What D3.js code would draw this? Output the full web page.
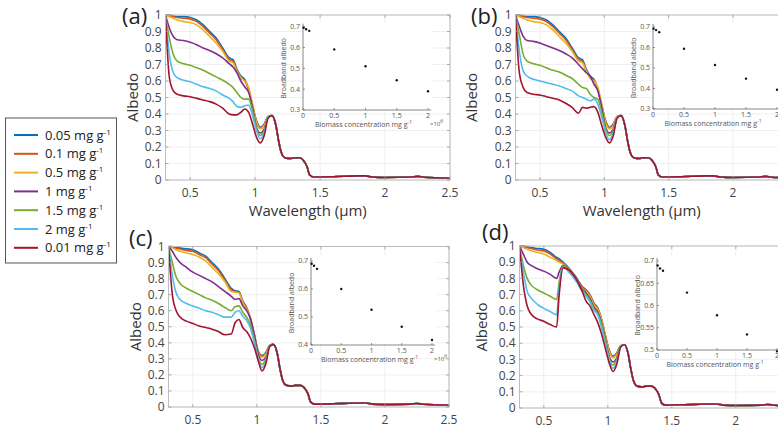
<!DOCTYPE html>
<html><head><meta charset="utf-8">
<script src="https://cdn.jsdelivr.net/npm/d3@7"></script>
<style>body{margin:0;background:#fff} svg{display:block} text{font-family:"Open Sans",sans-serif}</style>
</head><body><svg id="c" width="778" height="426"></svg>
<script>
// ---------- data ----------
const concLabels = ["0.05","0.1","0.5","1","1.5","2","0.01"];
const colors = ["#0072BD","#D95319","#EDB120","#7E2F8E","#77AC30","#4DBEEE","#A2142F"];
const xTicks = [0.5,1,1.5,2,2.5];
const yTicks = [0,0.1,0.2,0.3,0.4,0.5,0.6,0.7,0.8,0.9,1];

const wlABC = [0.31,0.34,0.37,0.4,0.45,0.5,0.55,0.6,0.65,0.7,0.75,0.8,0.83,0.86,0.89,0.92,0.95,0.98,1.01,1.04,1.07,1.1];
const wlD   = [0.31,0.34,0.37,0.4,0.45,0.5,0.55,0.6,0.62,0.65,0.7,0.75,0.8,0.83,0.86,0.89,0.92,0.95,0.98,1.01,1.04,1.07,1.1];
const tailWl  = [1.13,1.16,1.18,1.2,1.23,1.27,1.3,1.34,1.37,1.4,1.42,1.45,1.6,1.8,1.85,1.9,2.0,2.2,2.25,2.3,2.5];
const tailAlb = [0.39,0.33,0.24,0.17,0.135,0.13,0.135,0.135,0.12,0.08,0.03,0.018,0.02,0.025,0.025,0.018,0.015,0.018,0.022,0.017,0.012];

// panel (a)
const a005 = [1.0,1.0,0.995,0.99,0.99,0.985,0.97,0.94,0.9,0.86,0.8,0.74,0.73,0.67,0.63,0.61,0.55,0.45,0.36,0.32,0.34,0.385];
const a01  = [1.0,0.995,0.99,0.985,0.98,0.975,0.96,0.93,0.89,0.85,0.79,0.73,0.72,0.66,0.62,0.6,0.55,0.45,0.355,0.315,0.335,0.385];
const a05  = [1.0,0.99,0.98,0.97,0.96,0.955,0.94,0.91,0.87,0.83,0.78,0.72,0.71,0.66,0.62,0.6,0.56,0.46,0.35,0.31,0.33,0.385];
const a1   = [1.0,0.92,0.87,0.85,0.845,0.835,0.82,0.8,0.785,0.765,0.74,0.705,0.685,0.65,0.6,0.565,0.53,0.44,0.32,0.285,0.31,0.38];
const a15  = [1.0,0.86,0.76,0.72,0.705,0.695,0.68,0.665,0.645,0.625,0.605,0.58,0.56,0.53,0.5,0.49,0.49,0.42,0.31,0.27,0.3,0.38];
const a2   = [1.0,0.76,0.65,0.62,0.605,0.595,0.58,0.565,0.555,0.54,0.515,0.495,0.475,0.445,0.44,0.45,0.455,0.39,0.3,0.25,0.29,0.38];
const a001 = [1.0,0.62,0.54,0.52,0.51,0.505,0.495,0.485,0.475,0.46,0.435,0.4,0.395,0.395,0.41,0.43,0.41,0.34,0.26,0.225,0.27,0.375];
// panel (b)
const b005 = a005.slice();
const b01  = a01.slice();
const b05  = a05.slice();
const b1   = [1.0,0.93,0.87,0.845,0.84,0.83,0.815,0.8,0.785,0.765,0.74,0.7,0.675,0.65,0.63,0.58,0.54,0.44,0.32,0.285,0.31,0.38];
const b15  = [1.0,0.88,0.76,0.72,0.705,0.695,0.68,0.665,0.655,0.635,0.615,0.58,0.56,0.555,0.52,0.5,0.49,0.41,0.31,0.27,0.3,0.38];
const b2   = [1.0,0.78,0.66,0.63,0.61,0.6,0.59,0.58,0.57,0.555,0.54,0.51,0.5,0.49,0.48,0.49,0.46,0.38,0.29,0.245,0.285,0.38];
const b001 = [1.0,0.65,0.56,0.53,0.52,0.515,0.505,0.495,0.485,0.465,0.44,0.405,0.44,0.435,0.44,0.445,0.41,0.33,0.26,0.225,0.27,0.375];
// panel (c)
const c005 = [1.0,1.0,0.995,0.99,0.985,0.98,0.96,0.94,0.9,0.86,0.8,0.74,0.725,0.72,0.66,0.62,0.55,0.45,0.35,0.32,0.34,0.385];
const c01  = [1.0,0.995,0.99,0.985,0.975,0.97,0.95,0.93,0.89,0.85,0.79,0.73,0.72,0.715,0.655,0.615,0.55,0.45,0.345,0.315,0.335,0.385];
const c05  = [1.0,0.99,0.98,0.97,0.96,0.95,0.935,0.91,0.87,0.83,0.78,0.72,0.715,0.71,0.65,0.61,0.555,0.455,0.34,0.31,0.33,0.385];
const c1   = [1.0,0.97,0.93,0.9,0.87,0.84,0.82,0.8,0.78,0.75,0.72,0.69,0.67,0.675,0.63,0.6,0.55,0.45,0.33,0.29,0.31,0.38];
const c15  = [1.0,0.9,0.81,0.77,0.74,0.72,0.7,0.68,0.665,0.645,0.62,0.6,0.625,0.63,0.59,0.56,0.51,0.42,0.31,0.265,0.3,0.38];
const c2   = [1.0,0.82,0.71,0.67,0.645,0.63,0.615,0.6,0.59,0.575,0.56,0.56,0.59,0.6,0.565,0.54,0.49,0.4,0.3,0.245,0.285,0.38];
const c001 = [1.0,0.7,0.6,0.56,0.535,0.52,0.505,0.495,0.485,0.47,0.45,0.455,0.525,0.545,0.495,0.47,0.43,0.37,0.29,0.225,0.27,0.375];
// panel (d)
const d005 = [1.0,1.0,0.995,0.99,0.985,0.98,0.96,0.93,0.92,0.9,0.86,0.81,0.75,0.73,0.7,0.65,0.62,0.55,0.45,0.36,0.32,0.34,0.385];
const d01  = [1.0,0.995,0.99,0.985,0.975,0.97,0.95,0.92,0.91,0.895,0.855,0.805,0.745,0.725,0.695,0.645,0.615,0.55,0.45,0.355,0.315,0.335,0.385];
const d05  = [1.0,0.99,0.98,0.97,0.96,0.95,0.93,0.91,0.9,0.89,0.85,0.8,0.74,0.72,0.69,0.64,0.61,0.55,0.45,0.35,0.31,0.33,0.385];
const d1   = [1.0,0.95,0.9,0.88,0.86,0.845,0.825,0.8,0.84,0.88,0.845,0.795,0.735,0.71,0.675,0.625,0.595,0.53,0.43,0.32,0.285,0.31,0.38];
const d15  = [1.0,0.88,0.8,0.76,0.73,0.71,0.69,0.67,0.78,0.875,0.84,0.79,0.73,0.7,0.665,0.615,0.585,0.52,0.42,0.31,0.265,0.3,0.38];
const d2   = [1.0,0.84,0.72,0.68,0.64,0.615,0.595,0.575,0.74,0.87,0.835,0.785,0.72,0.69,0.655,0.605,0.575,0.5,0.4,0.3,0.245,0.285,0.38];
const d001 = [1.0,0.76,0.63,0.58,0.55,0.535,0.515,0.5,0.7,0.865,0.85,0.8,0.72,0.66,0.63,0.58,0.53,0.46,0.37,0.28,0.225,0.27,0.375];

// insets: broadband albedo vs biomass concentration (x 10^6)
const biomass = [0.01,0.05,0.1,0.5,1,1.5,2];
const bbA = [0.695,0.688,0.68,0.591,0.51,0.443,0.39];
const bbB = [0.692,0.685,0.675,0.594,0.515,0.448,0.394];
const bbC = [0.69,0.683,0.672,0.6,0.526,0.465,0.418];
const bbD = [0.69,0.683,0.678,0.629,0.578,0.535,0.497];
const insetXTicks = [0,0.5,1,1.5,2];

// ---------- drawing ----------
const svg = d3.select("#c");
const defs = svg.append("defs");
let clipN = 0;

function panel(o){
  const g = svg.append("g");
  const x = d3.scaleLinear().domain([0.31,2.5]).range([o.left,o.right]);
  const y = d3.scaleLinear().domain([0,1]).range([o.bottom,o.top]);
  g.append("g").selectAll("line").data(yTicks).join("line")
    .attr("x1",o.left).attr("x2",o.right).attr("y1",d=>y(d)).attr("y2",d=>y(d))
    .attr("stroke","#ebebeb").attr("stroke-width",0.8);
  g.append("g").selectAll("line").data(xTicks).join("line")
    .attr("x1",d=>x(d)).attr("x2",d=>x(d)).attr("y1",o.top).attr("y2",o.bottom)
    .attr("stroke","#ebebeb").attr("stroke-width",0.8);
  const id = "clip"+(clipN++);
  defs.append("clipPath").attr("id",id).append("rect")
    .attr("x",o.left).attr("y",o.top-2).attr("width",o.right-o.left).attr("height",o.bottom-o.top+4);
  const line = d3.line().x(d=>x(d[0])).y(d=>y(d[1])).curve(d3.curveMonotoneX);
  const cg = g.append("g").attr("clip-path",`url(#${id})`);
  o.series.forEach((s,i)=>{
    const pts = o.wl.map((w,j)=>[w,s[j]]).concat(tailWl.map((w,j)=>[w,tailAlb[j]]));
    cg.append("path").attr("d",line(pts)).attr("fill","none")
      .attr("stroke",colors[i]).attr("stroke-width",1.6).attr("stroke-linejoin","round");
  });
  g.append("rect").attr("x",o.left).attr("y",o.top).attr("width",o.right-o.left).attr("height",o.bottom-o.top)
    .attr("fill","none").attr("stroke","#bdbdbd").attr("stroke-width",1);
  const tk = g.append("g").attr("stroke","#9a9a9a").attr("stroke-width",0.8);
  xTicks.forEach(t=>{
    tk.append("line").attr("x1",x(t)).attr("x2",x(t)).attr("y1",o.bottom).attr("y2",o.bottom-3);
    tk.append("line").attr("x1",x(t)).attr("x2",x(t)).attr("y1",o.top).attr("y2",o.top+3);
  });
  yTicks.forEach(t=>{
    tk.append("line").attr("x1",o.left).attr("x2",o.left+3).attr("y1",y(t)).attr("y2",y(t));
    tk.append("line").attr("x1",o.right).attr("x2",o.right-3).attr("y1",y(t)).attr("y2",y(t));
  });
  g.append("g").selectAll("text").data(yTicks).join("text")
    .attr("x",o.left-4).attr("y",d=>y(d)).attr("dy","0.35em").attr("text-anchor","end")
    .attr("font-size",12).attr("fill","#444").text(d=>d3.format("")(d));
  g.append("g").selectAll("text").data(xTicks).join("text")
    .attr("x",d=>x(d)).attr("y",o.bottom+17).attr("text-anchor","middle")
    .attr("font-size",12).attr("fill","#444").text(d=>d);
  g.append("text").attr("transform",`translate(${o.ylabX},${(o.top+o.bottom)/2}) rotate(-90)`)
    .attr("text-anchor","middle").attr("font-size",15).attr("fill","#333").text("Albedo");
  if(o.xlab) g.append("text").attr("x",(o.left+(o.xlabC||o.right))/2).attr("y",o.bottom+36)
    .attr("text-anchor","middle").attr("font-size",15).attr("fill","#333").text("Wavelength (µm)");
  g.append("text").attr("x",o.letX).attr("y",o.letY).attr("font-size",22).attr("fill","#222").text(o.letter);
}

function inset(o){
  const g = svg.append("g");
  const x = d3.scaleLinear().domain([0,2]).range([o.x0,o.x1]);
  const y = d3.scaleLinear().domain(o.yDom).range([o.yBot,o.yTop]);
  g.append("rect").attr("x",o.x0).attr("y",o.yTop-4).attr("width",o.x1-o.x0+4).attr("height",o.yBot-o.yTop+4).attr("fill","#fff");
  g.append("line").attr("x1",o.x0).attr("x2",o.x0).attr("y1",o.yBot).attr("y2",o.yTop-3).attr("stroke","#555").attr("stroke-width",0.7);
  g.append("line").attr("x1",o.x0).attr("x2",o.x1+3).attr("y1",o.yBot).attr("y2",o.yBot).attr("stroke","#555").attr("stroke-width",0.7);
  o.yTicks.forEach(t=>{
    g.append("line").attr("x1",o.x0).attr("x2",o.x0+2).attr("y1",y(t)).attr("y2",y(t)).attr("stroke","#555").attr("stroke-width",0.6);
    g.append("text").attr("x",o.x0-3).attr("y",y(t)).attr("dy","0.35em").attr("text-anchor","end")
      .attr("font-size",7).attr("fill","#555").text(t);
  });
  insetXTicks.forEach(t=>{
    g.append("line").attr("x1",x(t)).attr("x2",x(t)).attr("y1",o.yBot).attr("y2",o.yBot-2).attr("stroke","#555").attr("stroke-width",0.6);
    g.append("text").attr("x",x(t)).attr("y",o.yBot+8).attr("text-anchor","middle")
      .attr("font-size",7).attr("fill","#555").text(t);
  });
  g.selectAll("circle").data(o.vals).join("circle")
    .attr("cx",(d,i)=>x(biomass[i])).attr("cy",d=>y(d)).attr("r",1.2).attr("fill","#111");
  g.append("text").attr("transform",`translate(${o.x0-17},${(o.yTop+o.yBot)/2}) rotate(-90)`)
    .attr("text-anchor","middle").attr("font-size",7).attr("fill","#555").text("Broadband albedo");
  const xl = g.append("text").attr("x",(o.x0+o.x1)/2-2).attr("y",o.yBot+17).attr("text-anchor","middle")
    .attr("font-size",7).attr("fill","#555");
  xl.append("tspan").text("Biomass concentration mg g");
  xl.append("tspan").attr("dy",-3).attr("font-size",5).text("-1");
  const ex = g.append("text").attr("x",o.x1+2).attr("y",o.yBot+16).attr("font-size",6).attr("fill","#555");
  ex.append("tspan").text("×10");
  ex.append("tspan").attr("dy",-3).attr("font-size",5).text("6");
}

panel({left:165.5,right:450,top:15,bottom:180,wl:wlABC,series:[a005,a01,a05,a1,a15,a2,a001],
  ylabX:138,xlab:true,letter:"(a)",letX:122,letY:24});
panel({left:515.5,right:797.4,top:15,bottom:180,wl:wlABC,series:[b005,b01,b05,b1,b15,b2,b001],
  ylabX:477,xlab:true,xlabC:768,letter:"(b)",letX:471,letY:24});
panel({left:168.5,right:449,top:246.5,bottom:407,wl:wlABC,series:[c005,c01,c05,c1,c15,c2,c001],
  ylabX:141,xlab:false,letter:"(c)",letX:129,letY:246});
panel({left:519.5,right:799.8,top:246,bottom:408,wl:wlD,series:[d005,d01,d05,d1,d15,d2,d001],
  ylabX:487,xlab:false,letter:"(d)",letX:482,letY:240});

inset({x0:303,x1:428,yTop:26.7,yBot:110,yDom:[0.3,0.7],yTicks:[0.3,0.4,0.5,0.6,0.7],vals:bbA});
inset({x0:653,x1:777,yTop:27,yBot:109,yDom:[0.3,0.7],yTicks:[0.3,0.4,0.5,0.6,0.7],vals:bbB});
inset({x0:311,x1:432,yTop:261,yBot:345,yDom:[0.4,0.7],yTicks:[0.4,0.5,0.6,0.7],vals:bbC});
inset({x0:657,x1:777,yTop:261,yBot:350,yDom:[0.5,0.7],yTicks:[0.5,0.55,0.6,0.65,0.7],vals:bbD});

// legend
const lg = svg.append("g");
const lgTop = 118, lgStep = 18.8;
lg.append("rect").attr("x",5.5).attr("y",lgTop).attr("width",111).attr("height",145)
  .attr("fill","#fff").attr("stroke","#555").attr("stroke-width",1);
concLabels.forEach((c,i)=>{
  const yy = lgTop+17+i*lgStep;
  lg.append("line").attr("x1",14).attr("x2",38).attr("y1",yy).attr("y2",yy)
    .attr("stroke",colors[i]).attr("stroke-width",2);
  const t = lg.append("text").attr("x",45).attr("y",yy).attr("dy","0.35em").attr("font-size",13).attr("fill","#222");
  t.append("tspan").text(c+" mg g");
  t.append("tspan").attr("dy",-5).attr("font-size",8).text("-1");
});
</script></body></html>
